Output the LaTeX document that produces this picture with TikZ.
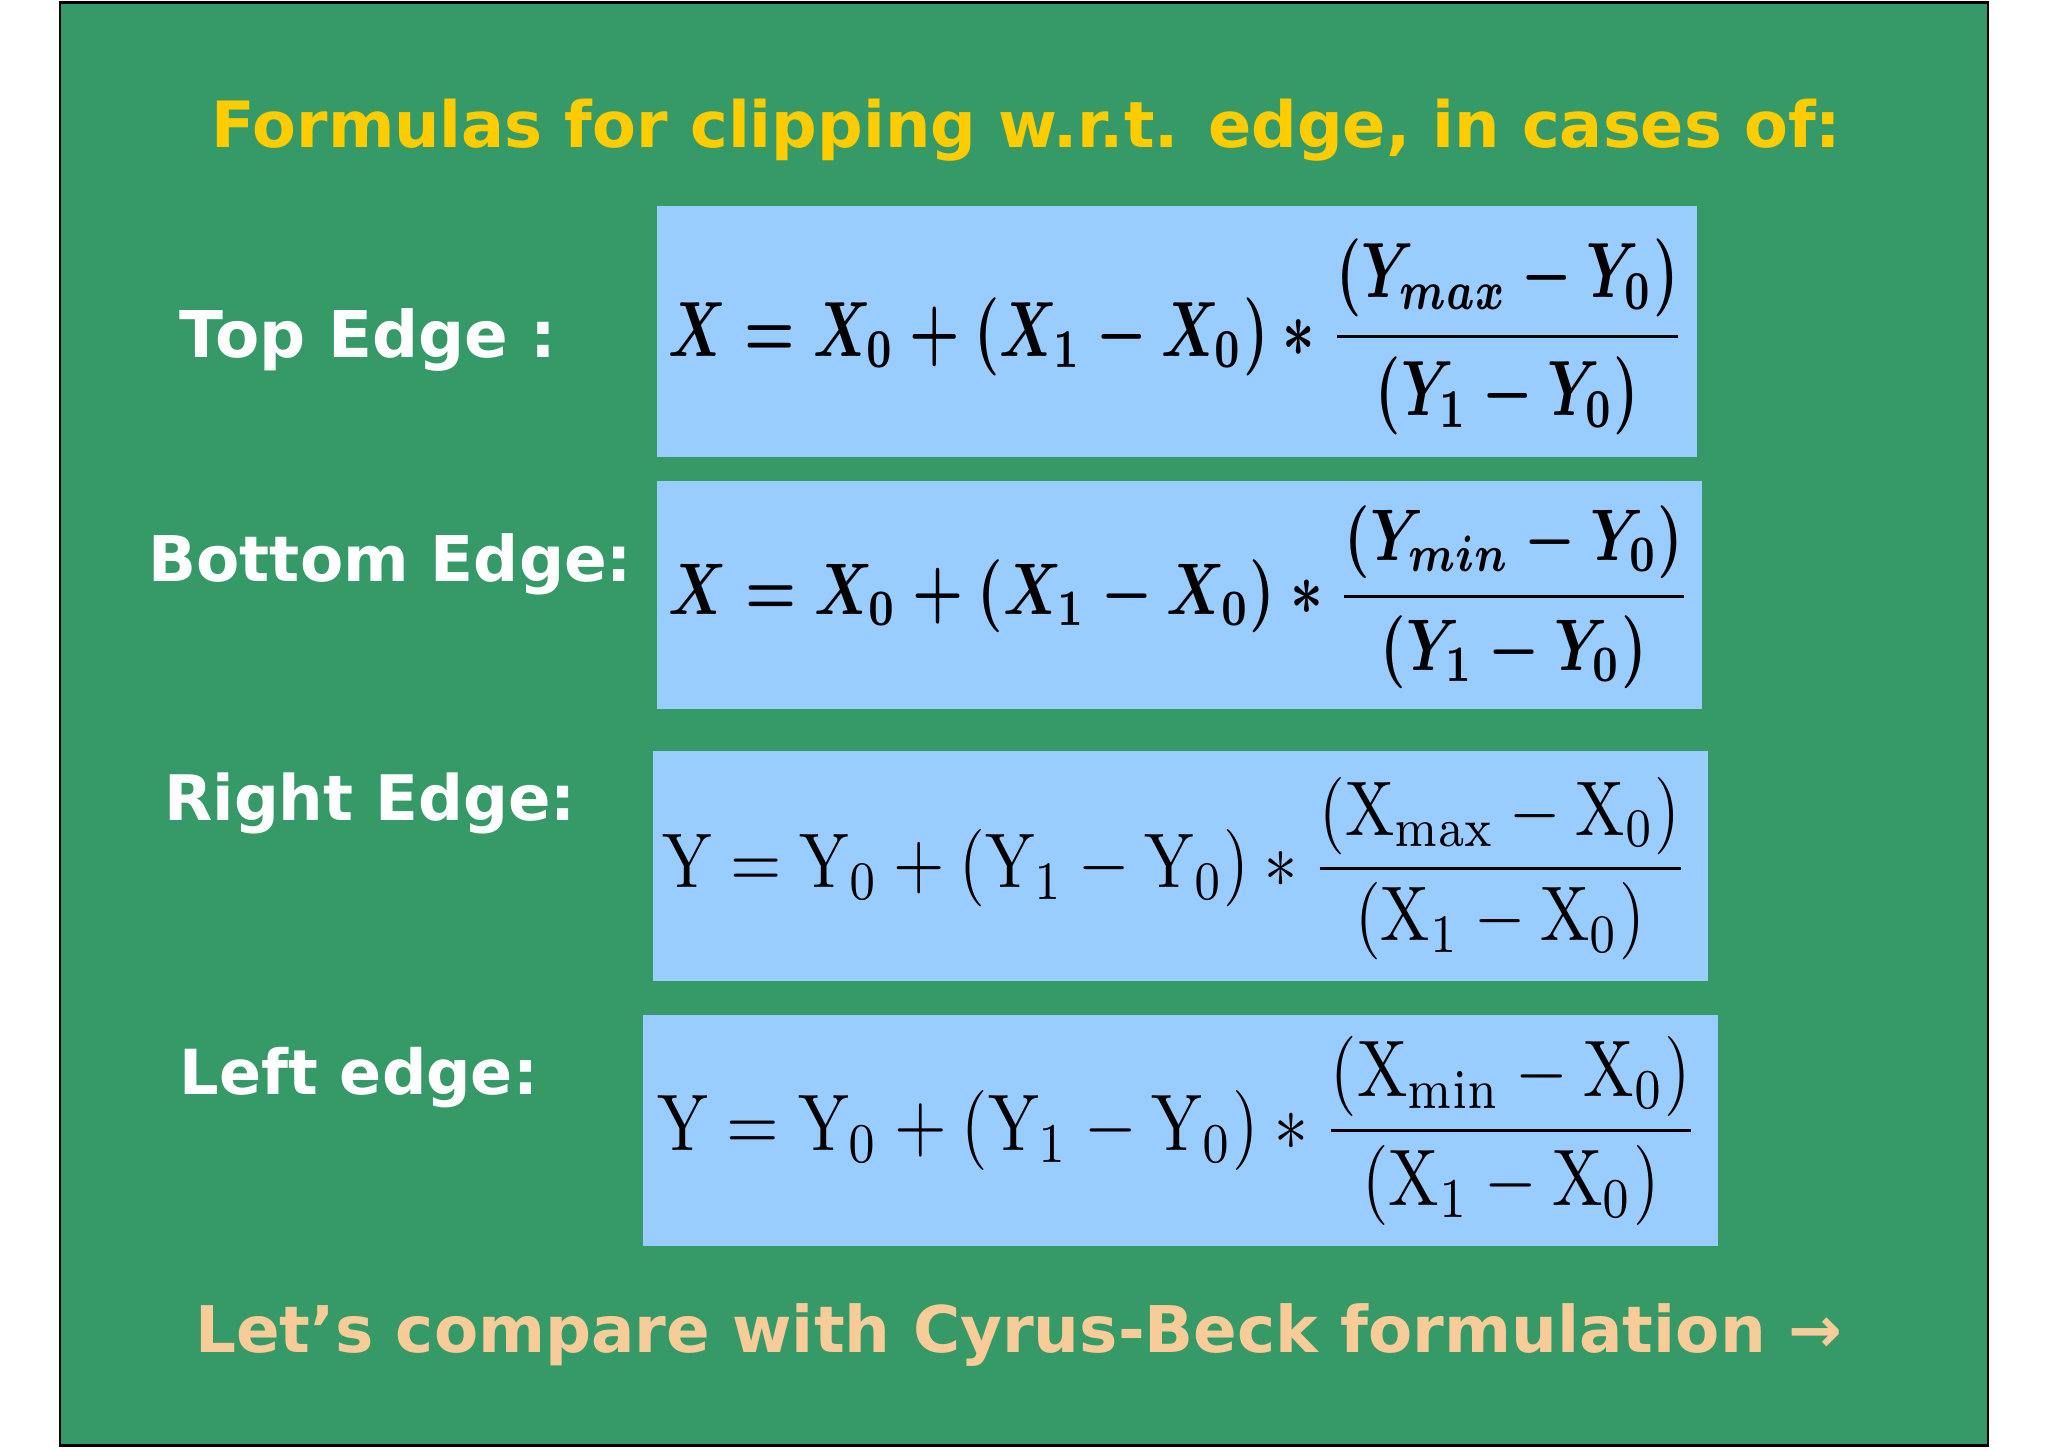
\documentclass[tikz,border=0pt]{standalone}
\usepackage{fontspec}
\usepackage{amsmath,graphicx}
\newfontfamily\dvs{DejaVu Sans}
\definecolor{bggreen}{HTML}{359A68}
\definecolor{boxblue}{HTML}{99CCFF}
\definecolor{titley}{HTML}{FFCC00}
\definecolor{peach}{HTML}{F8CC99}
\tikzset{lab/.style={text=white,font=\dvs\bfseries,inner sep=0},
 fbox/.style={fill=boxblue,draw=none}}
\begin{document}
\begin{tikzpicture}[x=0.01cm,y=-0.01cm]
\useasboundingbox (0,0) rectangle (1568,1110);
\fill[white] (0,0) rectangle (1568,1110);
\draw[fill=bggreen,draw=black,line width=0.6pt] (46,2) rectangle (1522,1107);
\node[lab,text=titley] (title) at (786,100) {\resizebox{12.47cm}{!}{Formulas for clipping w.r.t. edge, in cases of:}};
\fill[boxblue] (503,158) rectangle (1299,350);
\fill[boxblue] (503,368) rectangle (1303,543);
\fill[boxblue] (500,575) rectangle (1308,751);
\fill[boxblue] (492,777) rectangle (1315,954);
\node[lab,anchor=west] (l1) at (137,260) {\resizebox{2.88cm}{!}{Top Edge :}};
\node[lab,anchor=west] (l2) at (113,432) {\resizebox{3.70cm}{!}{Bottom Edge:}};
\node[lab,anchor=west] (l3) at (125,615) {\resizebox{3.15cm}{!}{Right Edge:}};
\node[lab,anchor=west] (l4) at (137,825) {\resizebox{2.74cm}{!}{Left edge:}};
\node[inner sep=0] (f1) at (901,258) {\resizebox*{7.78cm}{1.5cm}{\boldmath$\displaystyle X=X_0+(X_1-X_0)\ast\frac{(Y_{max}-Y_0)}{(Y_1-Y_0)}$}};
\node[inner sep=0] (f2) at (903,457) {\resizebox*{7.82cm}{1.4cm}{\boldmath$\displaystyle X=X_0+(X_1-X_0)\ast\frac{(Y_{min}-Y_0)}{(Y_1-Y_0)}$}};
\node[inner sep=0] (f3) at (900,665) {\resizebox*{7.85cm}{1.4cm}{$\displaystyle \mathrm{Y}=\mathrm{Y}_0+(\mathrm{Y}_1-\mathrm{Y}_0)\ast\frac{(\mathrm{X}_{\mathrm{max}}-\mathrm{X}_0)}{(\mathrm{X}_1-\mathrm{X}_0)}$}};
\node[inner sep=0] (f4) at (902,866) {\resizebox*{7.97cm}{1.45cm}{$\displaystyle \mathrm{Y}=\mathrm{Y}_0+(\mathrm{Y}_1-\mathrm{Y}_0)\ast\frac{(\mathrm{X}_{\mathrm{min}}-\mathrm{X}_0)}{(\mathrm{X}_1-\mathrm{X}_0)}$}};
\node[lab,text=peach] (foot) at (780,1022) {\resizebox{12.6cm}{!}{Let’s compare with Cyrus-Beck formulation →}};
\end{tikzpicture}
\end{document}
